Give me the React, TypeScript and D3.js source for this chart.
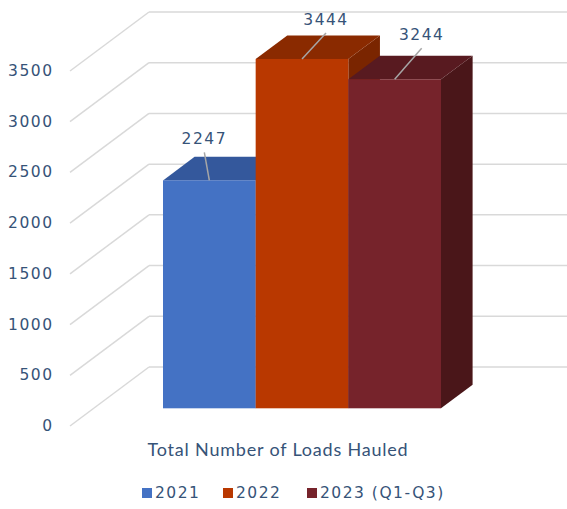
import * as d3 from "d3";

// chart values
const series = ["2021", "2022", "2023 (Q1-Q3)"];
const loads = [2247, 3444, 3244];
const ticks = [0, 500, 1000, 1500, 2000, 2500, 3000, 3500];
const category = "Total Number of Loads Hauled";

const front = ["#4472C4", "#B93800", "#76232B"];
const top = ["#34589C", "#8A2A00", "#581A20"];
const side = ["#2C4B85", "#7A2500", "#4A1619"];

// where each value label sits, relative to the top centre of its bar
const labelShift = [[-5, -41], [24, -39], [27, -44]];

const textColor = "#365378";
const font = "'DejaVu Sans', sans-serif";

export default function App() {
  const width = 567;
  const height = 509;

  // wall depth (floor front -> back wall)
  const depthX = 79;
  const depthY = -59;
  // bars sit between 30% and 70% of the depth
  const barFront = 0.3;
  const barBack = 0.7;

  const y = d3.scaleLinear().domain([0, 3500]).range([426, 71]);

  const x = d3.scaleBand().domain(series).range([163, 441]).padding(0);

  const bw = x.bandwidth();
  const bdx = depthX * (barBack - barFront);
  const bdy = depthY * (barBack - barFront);
  const fy = depthY * barFront; // y shift of bar front plane

  return (
    <svg width={width} height={height} style={{ display: "block", position: "absolute", left: 0, top: 0 }}>
      <rect width={width} height={height} fill="white" />

      {/* gridlines: side wall diagonal + back wall */}
      {ticks.map((t) => (
        <g key={t}>
          <line
            x1={70}
            y1={y(t)}
            x2={70 + depthX}
            y2={y(t) + depthY}
            stroke="#D9D9D9"
            strokeWidth={1.5}
          />
          <line
            x1={70 + depthX}
            y1={y(t) + depthY}
            x2={width}
            y2={y(t) + depthY}
            stroke="#D9D9D9"
            strokeWidth={1.5}
          />
          <text
            x={53.5}
            y={y(t)}
            textAnchor="end"
            dominantBaseline="central"
            fontFamily={font}
            fontSize={15.5}
            letterSpacing={1.5}
            fill={textColor}
          >
            {t}
          </text>
        </g>
      ))}

      {/* bars */}
      {series.map((s, i) => {
        const x0 = x(s)!;
        const x1 = x0 + bw;
        const yt = y(loads[i]) + fy;
        const yb = y(0) + fy;
        return (
          <g key={s}>
            <polygon
              points={`${x1},${yt} ${x1 + bdx},${yt + bdy} ${x1 + bdx},${yb + bdy} ${x1},${yb}`}
              fill={side[i]}
            />
            <polygon
              points={`${x0},${yt} ${x0 + bdx},${yt + bdy} ${x1 + bdx},${yt + bdy} ${x1},${yt}`}
              fill={top[i]}
            />
            <rect x={x0} y={yt} width={bw} height={yb - yt} fill={front[i]} />
          </g>
        );
      })}

      {/* value labels */}
      {series.map((s, i) => {
        const cx = x(s)! + bw / 2;
        const yt = y(loads[i]) + fy;
        const lx = cx + labelShift[i][0];
        const ly = yt + labelShift[i][1];
        return (
          <g key={s}>
            <line x1={lx} y1={ly + 13} x2={cx} y2={yt} stroke="#A6A6A6" strokeWidth={1.5} />
            <text
              x={lx}
              y={ly}
              textAnchor="middle"
              dominantBaseline="central"
              fontFamily={font}
              fontSize={15.5}
              letterSpacing={1.5}
              fill={textColor}
            >
              {loads[i]}
            </text>
          </g>
        );
      })}

      <text
        x={278}
        y={449}
        textAnchor="middle"
        dominantBaseline="central"
        fontFamily="Lato, sans-serif"
        fontSize={18}
        letterSpacing={0.8}
        fill={textColor}
      >
        {category}
      </text>

      {/* legend */}
      {series.map((s, i) => {
        const lx = [142, 223, 307][i];
        return (
          <g key={s} transform={`translate(${lx}, 493)`}>
            <rect x={0} y={-5} width={10} height={10} fill={front[i]} />
            <text
              x={13}
              y={0}
              dominantBaseline="central"
              fontFamily={font}
              fontSize={15.5}
              letterSpacing={1.5}
              fill={textColor}
            >
              {s}
            </text>
          </g>
        );
      })}
    </svg>
  );
}
